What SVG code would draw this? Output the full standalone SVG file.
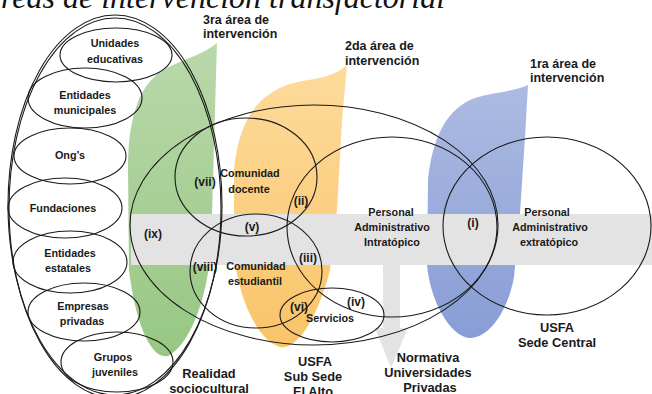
<svg xmlns="http://www.w3.org/2000/svg" width="652" height="394" viewBox="0 0 652 394">
<defs>
<linearGradient id="gGreen" x1="0" y1="0" x2="0" y2="1"><stop offset="0" stop-color="#bad8ab"/><stop offset="1" stop-color="#97c783"/></linearGradient>
<linearGradient id="gOrange" x1="0" y1="0" x2="0" y2="1"><stop offset="0" stop-color="#fedb9c"/><stop offset="1" stop-color="#f9c468"/></linearGradient>
<linearGradient id="gBlue" x1="0" y1="0" x2="0" y2="1"><stop offset="0" stop-color="#adbbe2"/><stop offset="1" stop-color="#889dd6"/></linearGradient>
<style>
.e{fill:none;stroke:#1a1a1a;stroke-width:1.1}
.t{font-family:"Liberation Sans",Arial,sans-serif;font-weight:bold;fill:#1a1a1a;text-anchor:middle}
.s{font-size:10.8px}
.a{font-size:12.5px;text-anchor:start}
.n{font-size:12px}
.b{font-size:12.8px}
.title{font-family:"Liberation Serif","Times New Roman",serif;font-style:italic;font-size:32px;fill:#111}
</style>
</defs>
<rect width="652" height="394" fill="#fff"/>
<text class="title" x="1" y="8">reas de intervención transfactorial</text>

<g id="area3"><path d="M217,43 L212,214 L209,265 C205,300 190,345 168,356 C150,360 135,320 129,270 L128,170 C128,120 138,88 160,72 C178,60 200,57 217,43 Z" fill="url(#gGreen)"/></g>
<g id="area2"><path d="M347,65 C330,80 310,78 290,84 C255,95 238,125 234,170 L234,250 C236,290 255,340 280,347 C300,350 320,310 330,270 L337,210 L342,120 Z" fill="url(#gOrange)"/></g>
<g id="area1"><path d="M528,85 C510,93 490,92 470,100 C445,112 432,140 428,180 L427,265 C430,300 450,337 470,338 C490,338 508,310 514,277 L520,213 L525,137 Z" fill="url(#gBlue)"/></g>

<g id="normativa-band"><rect x="131" y="214" width="521" height="51" fill="#e3e3e3"/></g>
<g id="connectors"><polygon points="383,264 400,264 400,328 408,328 391,368 375,328 383,328" fill="#e3e3e3"/></g>

<g id="realidad"><ellipse class="e" cx="115" cy="205" rx="107" ry="190"/><ellipse class="e" cx="115" cy="208" rx="106" ry="190"/></g>
<g id="subsede"><ellipse class="e" cx="314" cy="225" rx="184" ry="120"/></g>
<g id="docente"><ellipse class="e" cx="246" cy="177" rx="71" ry="59"/>
<text class="t s" x="250" y="177">Comunidad</text><text class="t s" x="249" y="193">docente</text></g>
<g id="estudiantil"><ellipse class="e" cx="256" cy="271" rx="66" ry="57"/>
<text class="t s" x="256" y="270">Comunidad</text><text class="t s" x="255" y="285">estudiantil</text></g>
<g id="servicios"><ellipse class="e" cx="332" cy="315" rx="52" ry="27"/>
<text class="t s" x="330" y="322">Servicios</text></g>
<g id="intratopico"><ellipse class="e" cx="392" cy="227" rx="105" ry="90"/>
<text class="t s" x="391" y="216">Personal</text><text class="t s" x="392" y="231">Administrativo</text><text class="t s" x="392" y="246">Intratópico</text></g>
<g id="extratopico"><ellipse class="e" cx="547" cy="226" rx="104" ry="89"/>
<text class="t s" x="547" y="216">Personal</text><text class="t s" x="550" y="231">Administrativo</text><text class="t s" x="549" y="246">extratópico</text></g>

<g id="unidades"><ellipse class="e" cx="116" cy="55" rx="56" ry="27"/><text class="t s" x="115" y="47">Unidades</text><text class="t s" x="115" y="63">educativas</text></g>
<g id="municipales"><ellipse class="e" cx="85" cy="98" rx="57" ry="30"/><text class="t s" x="85" y="99">Entidades</text><text class="t s" x="85" y="114">municipales</text></g>
<g id="ongs"><ellipse class="e" cx="70" cy="156" rx="56" ry="28"/><text class="t s" x="70" y="159">Ong’s</text></g>
<g id="fundaciones"><ellipse class="e" cx="65" cy="208" rx="57" ry="30"/><text class="t s" x="63" y="212">Fundaciones</text></g>
<g id="estatales"><ellipse class="e" cx="70" cy="262" rx="57" ry="31"/><text class="t s" x="70" y="257">Entidades</text><text class="t s" x="68" y="272">estatales</text></g>
<g id="empresas"><ellipse class="e" cx="84" cy="312" rx="56" ry="29"/><text class="t s" x="83" y="310">Empresas</text><text class="t s" x="82" y="325">privadas</text></g>
<g id="grupos"><ellipse class="e" cx="117" cy="362" rx="56" ry="30"/><text class="t s" x="113" y="361">Grupos</text><text class="t s" x="115" y="376">juveniles</text></g>

<g id="labels-num">
<text class="t n" x="473" y="227">(i)</text>
<text class="t n" x="301" y="205">(ii)</text>
<text class="t n" x="308" y="262">(iii)</text>
<text class="t n" x="356" y="306">(iv)</text>
<text class="t n" x="252" y="231">(v)</text>
<text class="t n" x="299" y="311">(vi)</text>
<text class="t n" x="205" y="186">(vii)</text>
<text class="t n" x="205" y="271">(viii)</text>
<text class="t n" x="153" y="238">(ix)</text>
</g>

<g id="area-labels">
<text class="t a" x="203" y="24">3ra área de</text><text class="t a" x="203" y="38">intervención</text>
<text class="t a" x="345" y="50">2da área de</text><text class="t a" x="345" y="65">intervención</text>
<text class="t a" x="530" y="68">1ra área de</text><text class="t a" x="530" y="82">intervención</text>
</g>
<g id="bottom-labels">
<text class="t b" x="209" y="378">Realidad</text><text class="t b" x="209" y="393">sociocultural</text>
<text class="t b" x="315" y="366">USFA</text><text class="t b" x="313" y="381">Sub Sede</text><text class="t b" x="313" y="396">El Alto</text>
<text class="t b" x="428" y="362">Normativa</text><text class="t b" x="428" y="377">Universidades</text><text class="t b" x="430" y="392">Privadas</text>
<text class="t b" x="557" y="332">USFA</text><text class="t b" x="557" y="347">Sede Central</text>
</g>
</svg>
